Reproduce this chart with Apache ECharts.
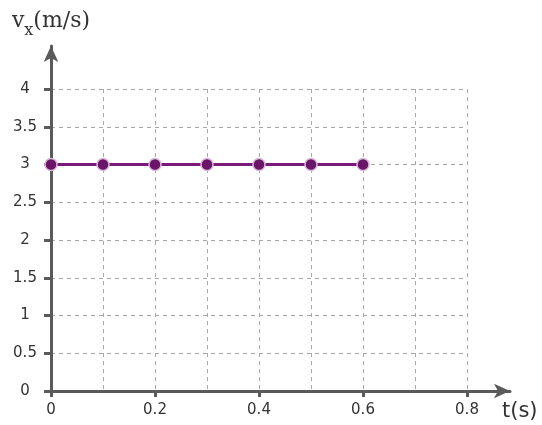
<!DOCTYPE html>
<html><head><meta charset="utf-8">
<script src="https://cdn.jsdelivr.net/npm/echarts@6/dist/echarts.min.js"></script>
<style>html,body{margin:0;padding:0;background:#fff}#c{width:542px;height:425px}</style>
</head><body><div id="c"></div>
<script>
const tValues = [0, 0.1, 0.2, 0.3, 0.4, 0.5, 0.6];
const vxValues = [3, 3, 3, 3, 3, 3, 3];
const xTicks = [0, 0.2, 0.4, 0.6, 0.8];
const yTicks = [0, 0.5, 1, 1.5, 2, 2.5, 3, 3.5, 4];
const xName = 't(s)';
const yNameMain = 'v';
const yNameSub = 'x';
const yNameUnit = '(m/s)';

const chart = echarts.init(document.getElementById('c'), null, {renderer: 'canvas'});
const font = 'DejaVu Sans';
const axisColor = '#5a5a5a';
const fmt = v => (Math.round(v * 10) / 10).toString();
chart.setOption({
  animation: false,
  backgroundColor: '#fff',
  grid: [
    {left: 51, right: 75, top: 89, bottom: 34},
    {left: 51, right: 32, top: 46, bottom: 34}
  ],
  xAxis: [
    {type: 'value', gridIndex: 0, min: xTicks[0], max: xTicks[xTicks.length - 1], interval: 0.2,
     axisLine: {show: true, lineStyle: {color: axisColor, width: 3}},
     axisTick: {show: true, length: 6, lineStyle: {color: axisColor, width: 3}},
     axisLabel: {margin: 12, color: '#333', fontSize: 15, fontFamily: font, formatter: fmt, showMaxLabel: true, showMinLabel: true},
     splitLine: {show: true, showMinLine: false, lineStyle: {color: '#aaa', type: [4, 4], width: 1}},
     minorTick: {show: false, splitNumber: 2},
     minorSplitLine: {show: true, lineStyle: {color: '#aaa', type: [4, 4], width: 1}}
    },
    {type: 'value', gridIndex: 1, min: 0, max: 1,
     axisLine: {show: true, symbol: ['none', 'arrow'], symbolSize: [11, 16], lineStyle: {color: axisColor, width: 3}},
     axisTick: {show: false}, axisLabel: {show: false}, splitLine: {show: false},
     name: xName, nameLocation: 'end', nameGap: -8,
     nameTextStyle: {color: '#333', fontSize: 21, fontFamily: font, align: 'left', verticalAlign: 'top', padding: [10, 0, 0, 0]}
    }
  ],
  yAxis: [
    {type: 'value', gridIndex: 0, min: yTicks[0], max: yTicks[yTicks.length - 1], interval: 0.5,
     axisLine: {show: true, lineStyle: {color: axisColor, width: 3}},
     axisTick: {show: true, length: 7, lineStyle: {color: axisColor, width: 3}},
     axisLabel: {margin: 26, align: 'center', color: '#333', fontSize: 15, fontFamily: font, formatter: fmt},
     splitLine: {show: true, showMinLine: false, lineStyle: {color: '#aaa', type: [4, 4], width: 1}}
    },
    {type: 'value', gridIndex: 1, min: 0, max: 1,
     axisLine: {show: true, symbol: ['none', 'arrow'], symbolSize: [11, 16], lineStyle: {color: axisColor, width: 3}},
     axisTick: {show: false}, axisLabel: {show: false}, splitLine: {show: false},
     name: '{m|' + yNameMain + '}{s|' + yNameSub + '}{m|' + yNameUnit + '}',
     nameLocation: 'end', nameGap: 12,
     nameTextStyle: {rich: {
       m: {fontSize: 22, lineHeight: 24, fontFamily: 'DejaVu Serif', color: '#333', verticalAlign: 'top'},
       s: {fontSize: 16, lineHeight: 16, fontFamily: 'DejaVu Serif', color: '#333', verticalAlign: 'top', padding: [13, 0, 0, 0]}
     }}
    }
  ],
  series: [{
    type: 'line', xAxisIndex: 0, yAxisIndex: 0,
    data: tValues.map((t, i) => [t, vxValues[i]]),
    lineStyle: {color: '#7a1a7a', width: 3},
    symbol: 'circle', symbolSize: 12,
    itemStyle: {color: '#6b1469', borderColor: '#d8b8d8', borderWidth: 1.5},
    z: 5
  }]
});
</script></body></html>
